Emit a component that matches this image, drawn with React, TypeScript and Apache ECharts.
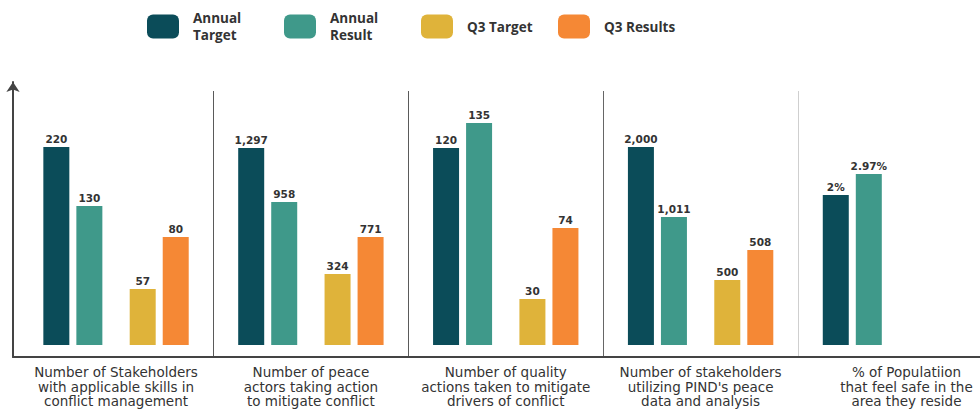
import React, { useEffect, useRef } from "react";
import * as echarts from "echarts";

const categories = [
  "Number of Stakeholders\nwith applicable skills in\nconflict management",
  "Number of peace\nactors taking action\nto mitigate conflict",
  "Number of quality\nactions taken to mitigate\ndrivers of conflict",
  "Number of stakeholders\nutilizing PIND's peace\ndata and analysis",
  "% of Populatiion\nthat feel safe in the\narea they reside",
];

const seriesNames = ["Annual Target", "Annual Result", "Q3 Target", "Q3 Results"];
const legendLabels = ["Annual\nTarget", "Annual\nResult", "Q3 Target", "Q3 Results"];

// value labels as printed on the bars
const annualTargetLabels = ["220", "1,297", "120", "2,000", "2%"];
const annualResultLabels = ["130", "958", "135", "1,011", "2.97%"];
const q3TargetLabels = ["57", "324", "30", "500", ""];
const q3ResultLabels = ["80", "771", "74", "508", ""];

// displayed bar heights (the picture's bars are not drawn to a common scale)
const annualTargetHeight = [198, 197, 197, 198, 150];
const annualResultHeight = [139, 143, 222, 128, 171];
const q3TargetHeight = [56, 71, 46, 65, null];
const q3ResultHeight = [108, 108, 117, 95, null];

const colors = ["#0b4c59", "#3f998a", "#dfb33a", "#f58835"];

export default function App() {
  const ref = useRef<HTMLDivElement>(null);
  useEffect(() => {
    document.body.style.margin = "0";
    const chart = echarts.init(ref.current!, undefined, { renderer: "svg" });
    const labelStyle = (labels: string[]) => ({
      show: true,
      position: "top",
      distance: 3,
      fontFamily: "DejaVu Sans",
      fontWeight: "bold",
      fontSize: 10.5,
      color: "#333",
      formatter: (p: any) => labels[p.dataIndex] || "",
    });
    const bar = (name: string, data: any[], color: string, labels: string[]) => ({
      name,
      type: "bar",
      xAxisIndex: 0,
      yAxisIndex: 0,
      data,
      barWidth: 26,
      barGap: "27%",
      itemStyle: { color },
      label: labelStyle(labels),
    });
    chart.setOption({
      animation: false,
      legend: {
        data: seriesNames,
        left: 147,
        top: 10,
        padding: 0,
        itemWidth: 32,
        itemHeight: 24,
        itemGap: 0,
        icon: "roundRect",
        formatter: (n: string) => legendLabels[seriesNames.indexOf(n)],
        textStyle: {
          fontFamily: "Open Sans",
          fontWeight: "bold",
          fontSize: 13.5,
          lineHeight: 16.5,
          color: "#333",
          width: 91,
          padding: [0, 0, 0, 9],
        },
      },
      grid: [
        { left: 18.6, width: 974.3, top: 91, bottom: 55, outerBoundsMode: "none", containLabel: false },
        { left: 13, right: 0, top: 82, bottom: 55, outerBoundsMode: "none", containLabel: false },
      ],
      xAxis: [
        {
          type: "category",
          gridIndex: 0,
          data: categories.map((c, i) =>
            i === categories.length - 1 ? { value: c, textStyle: { padding: [0, 0, 0, 22] } } : c
          ),
          axisLine: { show: false },
          axisTick: { show: false },
          axisLabel: {
            margin: 8,
            fontFamily: "DejaVu Sans",
            fontSize: 13.5,
            lineHeight: 14.5,
            color: "#333",
            interval: 0,
          },
          splitLine: {
            show: true,
            lineStyle: {
              width: 1,
              color: ["rgba(0,0,0,0)", "#5a5a5a", "#5a5a5a", "#666", "#cfcfcf", "rgba(0,0,0,0)"],
            },
          },
        },
        {
          type: "value",
          gridIndex: 1,
          min: 0,
          max: 1,
          axisLine: { show: true, onZero: false, lineStyle: { color: "#444", width: 2 } },
          axisTick: { show: false },
          axisLabel: { show: false },
          splitLine: { show: false },
        },
      ],
      yAxis: [
        { type: "value", gridIndex: 0, min: -12, max: 254, show: false },
        {
          type: "value",
          gridIndex: 1,
          min: 0,
          max: 1,
          axisLine: {
            show: true,
            onZero: false,
            symbol: ["none", "arrow"],
            symbolSize: [10, 10],
            lineStyle: { color: "#444", width: 2 },
          },
          axisTick: { show: false },
          axisLabel: { show: false },
          splitLine: { show: false },
        },
      ],
      series: [
        bar(seriesNames[0], annualTargetHeight, colors[0], annualTargetLabels),
        bar(seriesNames[1], annualResultHeight, colors[1], annualResultLabels),
        {
          name: "spacer",
          type: "bar",
          xAxisIndex: 0,
          yAxisIndex: 0,
          data: categories.map(() => null),
          barWidth: 16,
          barGap: "27%",
          silent: true,
        },
        bar(seriesNames[2], q3TargetHeight, colors[2], q3TargetLabels),
        bar(seriesNames[3], q3ResultHeight, colors[3], q3ResultLabels),
      ],
    });
    return () => chart.dispose();
  }, []);
  return <div ref={ref} style={{ position: "absolute", left: 0, top: 0, width: 980, height: 412 }} />;
}
